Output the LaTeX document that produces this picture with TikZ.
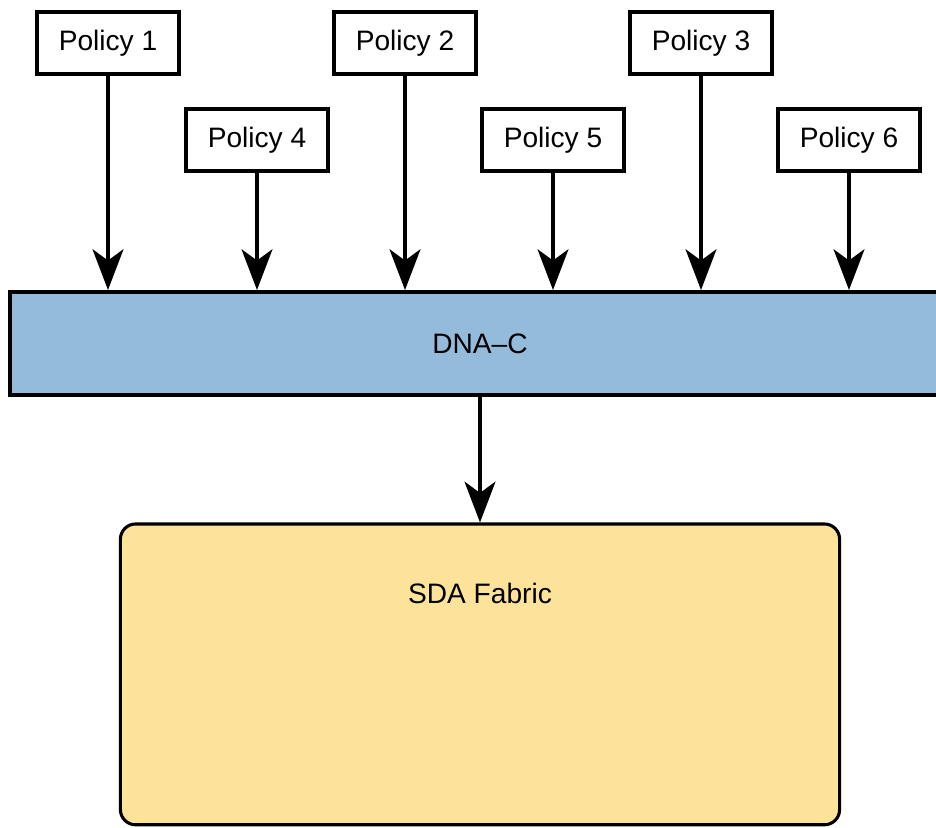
\documentclass[tikz,border=0pt]{standalone}
\usepackage{fontspec}
\setmainfont{Liberation Sans}
\usepackage{xcolor}
\usepackage{tikz}
\usetikzlibrary{arrows.meta,positioning}
\definecolor{dnablue}{HTML}{95BBDB}
\definecolor{fabricyellow}{HTML}{FDE39A}

\begin{document}
\begin{tikzpicture}[font=\fontsize{20}{24}\selectfont,
  policy/.style={draw=black,line width=2.5pt,fill=white,minimum width=3.55cm,minimum height=1.56cm,inner sep=0pt},
  bar/.style={draw=black,line width=2.8pt,fill=dnablue,minimum width=24.4cm,minimum height=2.58cm,inner sep=0pt},
  fabric/.style={draw=black,line width=2.2pt,fill=fabricyellow,rounded corners=0.38cm,minimum width=17.98cm,minimum height=7.52cm,inner sep=0pt},
  flow/.style={line width=2.2pt,-{Stealth[length=29pt,width=22pt,inset=8pt]}}]
  \useasboundingbox (0,0) rectangle (23.4,20.7);
  % controller bar (runs off the right edge) and fabric
  \node[bar,anchor=west] (dnac) at (0.2,12.11) {};
  \node (dnactext) at (12,12.11) {DNA--C};
  \node[fabric] (fabric) at (12,3.84) {};
  \node (fabrictext) at (12,5.875) {SDA Fabric};
  % policies
  \foreach \n/\x/\y in {1/2.7/19.625,2/10.125/19.625,3/17.525/19.625,4/6.425/17.2,5/13.825/17.2,6/21.225/17.2} {
    \node[policy] (p\n) at (\x,\y) {Policy \n};
    \draw[flow] (p\n) -- (p\n |- dnac.north);
  }
  \draw[flow] (dnactext |- dnac.south) -- (fabric);
\end{tikzpicture}
\end{document}
